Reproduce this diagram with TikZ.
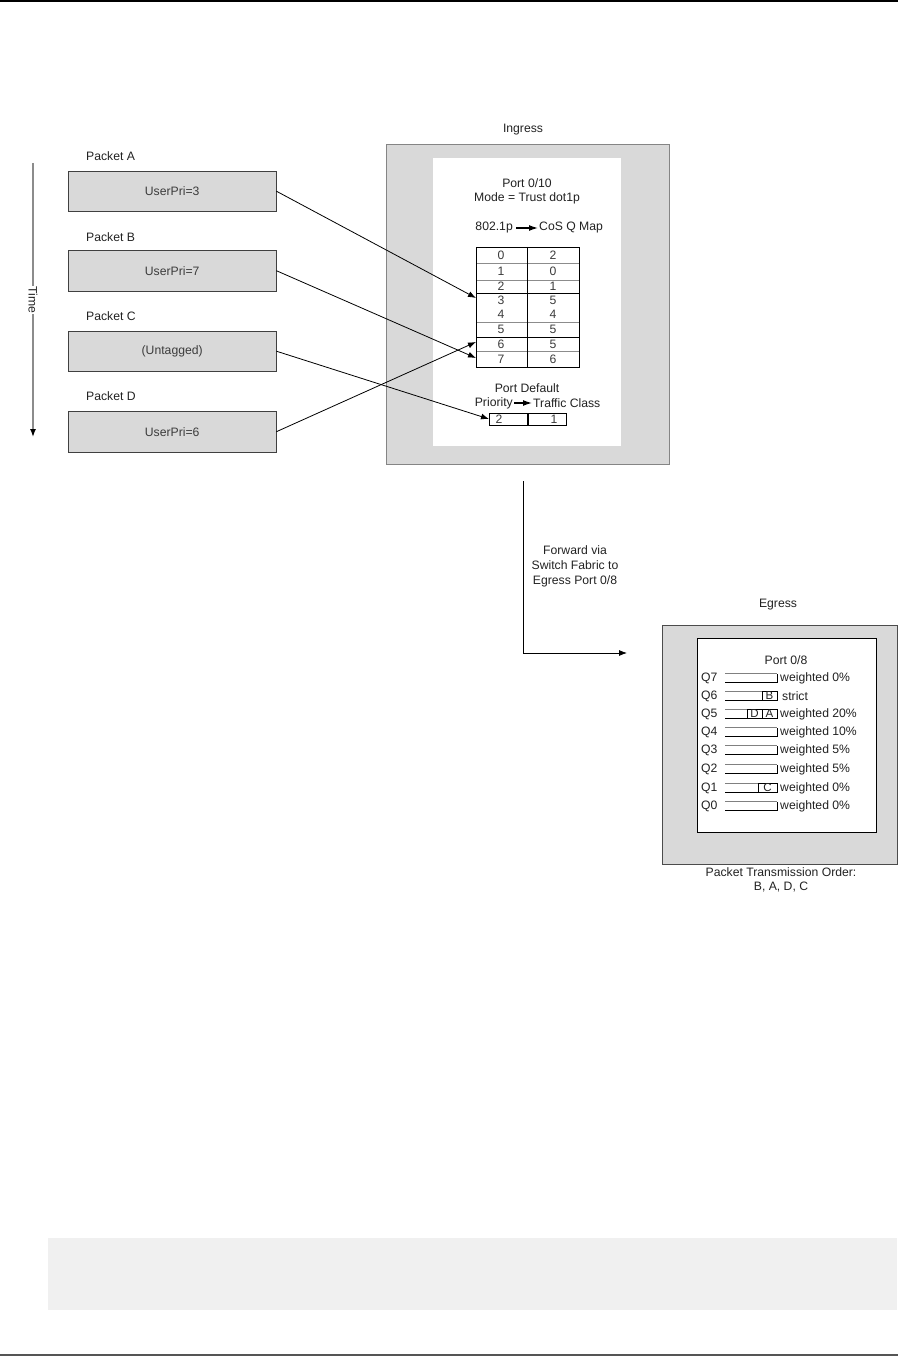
\documentclass[tikz,border=0pt]{standalone}
\usepackage{fontspec}
\setmainfont{Liberation Sans}
\usetikzlibrary{arrows.meta,positioning}
\definecolor{boxfill}{HTML}{D9D9D9}
\definecolor{boxline}{HTML}{858585}
\definecolor{txtc}{HTML}{222222}
\definecolor{celltxt}{HTML}{3C3C3C}
\definecolor{notefill}{HTML}{F0F0F0}
\definecolor{ruleline}{HTML}{555555}
\definecolor{timeline}{HTML}{8C8C8C}
\tikzset{
  txt/.style={font=\fontsize{12.2}{14}\selectfont, text=txtc, inner sep=0pt},
  pktbox/.style={draw=black!75, fill=boxfill, anchor=north west, minimum width=208pt, minimum height=40pt, text=celltxt},
  pktlabel/.style={anchor=west},
  outerbox/.style={draw=boxline, fill=boxfill, anchor=north west, line width=0.9pt},
  innerbox/.style={fill=white, anchor=north west},
  feed/.style={-{Latex[length=8pt,width=6pt]}, line width=0.8pt},
  maparrow/.style={-{Latex[length=9pt,width=6pt]}, line width=1.3pt, shorten <=3pt, shorten >=1pt},
  tblout/.style={draw=black, line width=0.9pt},
  tblthin/.style={draw=black!45, line width=0.8pt},
  cellnum/.style={text=celltxt},
  dcell/.style={draw=black, line width=0.9pt, minimum width=38pt, minimum height=12pt, anchor=west},
  timearrow/.style={draw=timeline, line width=1.4pt, -{Latex[length=8pt,width=6pt,black]}},
  timelbl/.style={fill=white, rotate=-90, inner sep=1pt},
  fwd/.style={-{Latex[length=8pt,width=6pt]}, line width=0.8pt},
  qlabel/.style={anchor=west},
  qtext/.style={anchor=west},
  qtop/.style={draw=black!50, line width=0.8pt},
  qbot/.style={draw=black, line width=0.9pt},
  qpkt/.style={draw=black, line width=0.8pt, minimum height=9pt, text=txtc, font=\fontsize{11.5}{12}\selectfont},
}
\def\tL{476}
\def\tM{527}
\def\tR{579}
\newcommand{\maprow}[4]{%
  \node[cellnum] (p#1) at (501,#2) {#3}; \node[cellnum] (c#1) at (553,#2) {#4};}
\newcommand{\qrow}[3]{%
  \node[qlabel] (q#1) at (701,#2) {Q#1};
  \draw[qtop] (725,#2-4.5) -- (777,#2-4.5);
  \draw[qbot] (725,#2+4.5) -- (777,#2+4.5) -- (777,#2-4.5);
  \node[qtext] (w#1) at (780,#2) {#3};}

\begin{document}
\begin{tikzpicture}[x=1pt, y=-1pt, every node/.style={txt}]
  \useasboundingbox (0,0) rectangle (898,1356);
  \draw[line width=2pt] (0,1) -- (898,1);
  \draw[ruleline, line width=2pt] (0,1355) -- (898,1355);
  \fill[notefill] (48,1238) rectangle (897,1310);
  % time axis
  \coordinate (t0) at (33,163);
  \coordinate (t1) at (33,437);
  \draw[timearrow] (t0) -- node[timelbl] (tlbl) {Time} (t1);
  % packets
  \node[pktlabel] (la) at (86,156) {Packet A};
  \node[pktbox] (pa) at (68,171) {UserPri=3};
  \node[pktlabel] (lb) at (86,237) {Packet B};
  \node[pktbox, minimum height=41pt] (pb) at (68,250) {UserPri=7};
  \node[pktlabel] (lc) at (86,316) {Packet C};
  \node[pktbox] (pc) at (68,331) {(Untagged)};
  \node[pktlabel] (ld) at (86,396) {Packet D};
  \node[pktbox, minimum height=41pt] (pd) at (68,411) {UserPri=6};
  % ingress
  \node (inglbl) at (523,130) {Ingress};
  \node[outerbox, minimum width=283pt, minimum height=320pt] (ing) at (386,144) {};
  \node[innerbox, minimum width=188pt, minimum height=288pt] (ingin) at (433,158) {};
  \node (port) at (527,183) {Port 0/10};
  \node (mode) at (527,198) {Mode = Trust dot1p};
  \node[anchor=east] (dotp) at (513,228) {802.1p};
  \node[anchor=west] (cosq) at (539,228) {CoS Q Map};
  \draw[maparrow] (dotp) -- (cosq);
  \draw[tblthin] (\tL,263) -- (\tR,263);
  \draw[tblthin] (\tL,280) -- (\tR,280);
  \draw[tblthin] (\tL,322) -- (\tR,322);
  \draw[tblthin] (\tL,351) -- (\tR,351);
  \draw[tblout] (\tL,293) -- (\tR,293);
  \draw[tblout] (\tL,337) -- (\tR,337);
  \draw[tblout] (\tL,247) rectangle (\tR,367);
  \draw[tblout] (\tM,247) -- (\tM,367);
  \maprow{0}{255}{0}{2}
  \maprow{1}{271.5}{1}{0}
  \maprow{2}{286.5}{2}{1}
  \maprow{3}{300}{3}{5}
  \maprow{4}{314}{4}{4}
  \maprow{5}{329.5}{5}{5}
  \maprow{6}{344}{6}{5}
  \maprow{7}{359}{7}{6}
  \node (pdef) at (527,388) {Port Default};
  \node[anchor=east] (prio) at (513,403) {Priority};
  \node[anchor=west] (tcls) at (533,403) {Traffic Class};
  \draw[maparrow, shorten <=1pt] (prio) -- (tcls);
  \node[dcell] (dpri) at (489,419) {};
  \node[dcell, right=0pt of dpri] (dtc) {};
  \node[cellnum] (v2) at (499,419) {2};
  \node[cellnum] (v1) at (554,419) {1};
  \coordinate (m3) at (\tL,298);
  \coordinate (m6) at (\tL,342);
  \coordinate (m7) at (\tL,358);
  \draw[feed] (pa.east) -- (m3);
  \draw[feed] (pb.east) -- (m7);
  \draw[feed] (pc.east) -- (dpri.west);
  \draw[feed] (pd.east) -- (m6);
  % fabric
  \coordinate (fwd0) at (523,481);
  \coordinate (fwd1) at (627,653);
  \draw[fwd] (fwd0) |- (fwd1);
  \node[align=center, font=\fontsize{12.2}{15}\selectfont] (fwdtxt) at (575,566) {Forward via\\Switch Fabric to\\Egress Port 0/8};
  % egress
  \node (eglbl) at (778,605) {Egress};
  \node[outerbox, draw=black!70, minimum width=235pt, minimum height=239pt] (eg) at (662,625) {};
  \node[innerbox, draw=black, line width=0.9pt, minimum width=179pt, minimum height=194pt] (egin) at (697,638) {};
  \node (eport) at (786,660) {Port 0/8};
  \qrow{7}{678}{weighted 0\%}
  \qrow{6}{696}{\hspace*{2pt}strict}
  \qrow{5}{714}{weighted 20\%}
  \qrow{4}{732}{weighted 10\%}
  \qrow{3}{750}{weighted 5\%}
  \qrow{2}{769}{weighted 5\%}
  \qrow{1}{788}{weighted 0\%}
  \qrow{0}{806}{weighted 0\%}
  \node[qpkt, minimum width=15pt] (qB) at (769.5,696) {B};
  \node[qpkt, minimum width=15pt] (qD) at (754.5,714) {D};
  \node[qpkt, minimum width=15pt] (qA) at (769.5,714) {A};
  \node[qpkt, minimum width=19pt] (qC) at (767.5,788) {C};
  \node[align=center] (order) at (781,880) {Packet Transmission Order:\\B, A, D, C};
\end{tikzpicture}
\end{document}
